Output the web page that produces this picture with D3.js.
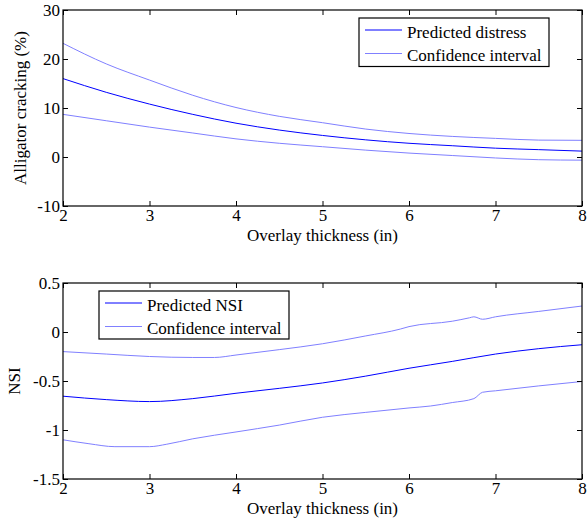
<!DOCTYPE html>
<html>
<head>
<meta charset="utf-8">
<script src="https://cdn.jsdelivr.net/npm/d3@7"></script>
<style>
  html, body { margin: 0; padding: 0; background: #fff; }
  text { font-family: "Liberation Serif", "Times New Roman", serif; fill: #000; }
</style>
</head>
<body>
<svg id="chart" width="587" height="527"></svg>
<script>
// ---- Data ----
const thicknessTop = [2, 2.5, 3, 3.5, 4, 4.5, 5, 5.5, 6, 6.5, 7, 7.5, 8];
const crackPred  = [16.0, 13.2, 10.8, 8.7, 6.9, 5.5, 4.4, 3.5, 2.8, 2.3, 1.8, 1.5, 1.2];
const crackUpper = [23.2, 19.0, 15.7, 12.6, 10.1, 8.3, 7.0, 5.7, 4.8, 4.2, 3.8, 3.45, 3.4];
const crackLower = [8.7, 7.4, 6.1, 4.9, 3.7, 2.8, 2.1, 1.4, 0.8, 0.3, -0.2, -0.55, -0.65];

const thicknessNsiPred = [2, 2.5, 3, 3.5, 4, 4.5, 5, 5.5, 6, 6.5, 7, 7.5, 8];
const nsiPred = [-0.655, -0.69, -0.71, -0.68, -0.625, -0.575, -0.52, -0.45, -0.37, -0.30, -0.225, -0.17, -0.13];
const thicknessNsiUpper = [2, 2.5, 3, 3.5, 3.75, 4, 4.5, 5, 5.5, 5.9, 6, 6.5, 6.7, 6.75, 6.85, 7, 7.5, 8];
const nsiUpper = [-0.20, -0.225, -0.25, -0.26, -0.26, -0.235, -0.18, -0.12, -0.04, 0.03, 0.055, 0.11, 0.145, 0.155, 0.13, 0.155, 0.21, 0.265];
const thicknessNsiLower = [2, 2.3, 2.6, 3, 3.2, 3.5, 4, 4.5, 5, 5.5, 6, 6.25, 6.5, 6.75, 6.85, 7, 7.5, 8];
const nsiLower = [-1.10, -1.14, -1.17, -1.17, -1.145, -1.09, -1.02, -0.95, -0.87, -0.82, -0.775, -0.755, -0.72, -0.68, -0.615, -0.6, -0.55, -0.505];

const xTicks = [2, 3, 4, 5, 6, 7, 8];
const xTickLabels = ["2", "3", "4", "5", "6", "7", "8"];
const yTicksTop = [-10, 0, 10, 20, 30];
const yTickLabelsTop = ["-10", "0", "10", "20", "30"];
const yTicksBottom = [-1.5, -1, -0.5, 0, 0.5];
const yTickLabelsBottom = ["-1.5", "-1", "-0.5", "0", "0.5"];

const xLabel = "Overlay thickness (in)";
const yLabelTop = "Alligator cracking (%)";
const yLabelBottom = "NSI";
const legendTop = ["Predicted distress", "Confidence interval"];
const legendBottom = ["Predicted NSI", "Confidence interval"];

const colPred = "#0000ff";
const colCI = "#8080ff";
const FS = 17;

const svg = d3.select("#chart");

function panel(opts) {
  const { top, bottom, left, right, yDomain, yTicks, yTickLabels, series, yLabel, yLabelX, legend } = opts;
  const x = d3.scaleLinear().domain([2, 8]).range([left, right]);
  const y = d3.scaleLinear().domain(yDomain).range([bottom, top]);
  const g = svg.append("g");

  // lines
  const line = d3.line().x(d => x(d[0])).y(d => y(d[1])).curve(d3.curveMonotoneX);
  series.forEach(s => {
    g.append("path")
      .datum(s.xs.map((v, i) => [v, s.ys[i]]))
      .attr("d", line)
      .attr("fill", "none")
      .attr("stroke", s.color)
      .attr("stroke-width", 1);
  });

  // axes with inward ticks on all sides
  const tl = 5;
  const axB = g.append("g").attr("transform", `translate(0,${bottom})`)
    .call(d3.axisBottom(x).tickValues(xTicks).tickSizeInner(-tl).tickSizeOuter(0).tickPadding(3)
      .tickFormat((d, i) => xTickLabels[i]));
  const axT = g.append("g").attr("transform", `translate(0,${top})`)
    .call(d3.axisTop(x).tickValues(xTicks).tickSizeInner(-tl).tickSizeOuter(0).tickFormat(""));
  const axL = g.append("g").attr("transform", `translate(${left},0)`)
    .call(d3.axisLeft(y).tickValues(yTicks).tickSizeInner(-tl).tickSizeOuter(0).tickPadding(3)
      .tickFormat((d, i) => yTickLabels[i]));
  const axR = g.append("g").attr("transform", `translate(${right},0)`)
    .call(d3.axisRight(y).tickValues(yTicks).tickSizeInner(-tl).tickSizeOuter(0).tickFormat(""));
  [axB, axT, axL, axR].forEach(a => {
    a.select(".domain").remove();
    a.selectAll("line").attr("stroke", "#000").attr("stroke-width", 1);
    a.selectAll("text").style("font-family", '"Liberation Serif", serif').style("font-size", FS + "px").attr("fill", "#000");
  });
  axB.selectAll("text").attr("y", 3).attr("dy", "0.71em");

  // frame
  g.append("rect")
    .attr("x", left).attr("y", top)
    .attr("width", right - left).attr("height", bottom - top)
    .attr("fill", "none").attr("stroke", "#000").attr("stroke-width", 1.2);

  // axis labels
  g.append("text")
    .attr("x", (left + right) / 2).attr("y", bottom + 35)
    .attr("text-anchor", "middle").style("font-size", FS + "px")
    .text(xLabel);
  g.append("text")
    .attr("transform", `translate(${yLabelX},${(top + bottom) / 2}) rotate(-90)`)
    .attr("text-anchor", "middle").style("font-size", FS + "px")
    .text(yLabel);

  // legend
  const L = legend;
  const lg = g.append("g");
  lg.append("rect")
    .attr("x", L.x).attr("y", L.y).attr("width", L.w).attr("height", L.h)
    .attr("fill", "#fff").attr("stroke", "#000").attr("stroke-width", 1.2);
  L.items.forEach((it, i) => {
    const ly = L.y + 12 + i * 23.5;
    lg.append("line")
      .attr("x1", L.x + 6).attr("x2", L.x + 43)
      .attr("y1", ly).attr("y2", ly)
      .attr("stroke", it.color).attr("stroke-width", 1);
    lg.append("text")
      .attr("x", L.x + 48).attr("y", ly + 7.5)
      .style("font-size", FS + "px")
      .text(it.label);
  });
}

panel({
  top: 10, bottom: 206, left: 63, right: 582,
  yDomain: [-10, 30], yTicks: yTicksTop, yTickLabels: yTickLabelsTop,
  series: [
    { xs: thicknessTop, ys: crackUpper, color: colCI },
    { xs: thicknessTop, ys: crackLower, color: colCI },
    { xs: thicknessTop, ys: crackPred, color: colPred }
  ],
  yLabel: yLabelTop, yLabelX: 26,
  legend: { x: 359, y: 18, w: 190, h: 48.5,
    items: [{ label: legendTop[0], color: colPred }, { label: legendTop[1], color: colCI }] }
});

panel({
  top: 283, bottom: 479, left: 63, right: 582,
  yDomain: [-1.5, 0.5], yTicks: yTicksBottom, yTickLabels: yTickLabelsBottom,
  series: [
    { xs: thicknessNsiUpper, ys: nsiUpper, color: colCI },
    { xs: thicknessNsiLower, ys: nsiLower, color: colCI },
    { xs: thicknessNsiPred, ys: nsiPred, color: colPred }
  ],
  yLabel: yLabelBottom, yLabelX: 20,
  legend: { x: 99, y: 291, w: 190, h: 48,
    items: [{ label: legendBottom[0], color: colPred }, { label: legendBottom[1], color: colCI }] }
});
</script>
</body>
</html>
